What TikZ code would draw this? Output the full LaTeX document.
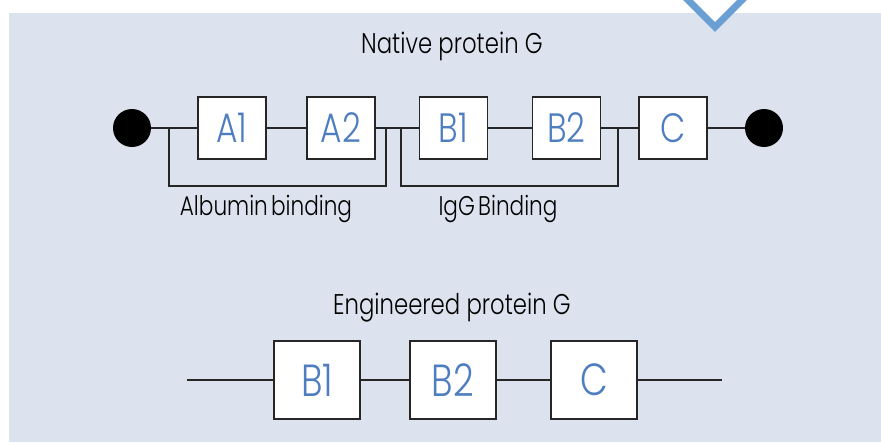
\documentclass[tikz,border=0pt]{standalone}
\usepackage{fontspec}
\setmainfont{Poppins Light}[FakeStretch=0.8]
\usepackage{xcolor}
\definecolor{panel}{HTML}{DCE3EE}
\definecolor{chevron}{HTML}{6A9FD4}
\definecolor{domain}{HTML}{4F7EC0}
\definecolor{wire}{HTML}{262626}

\begin{document}
\begin{tikzpicture}[x=1pt, y=-1pt, line/.style={draw=wire, line width=#1}, line/.default=1.2pt]
    % Define styles for domains, end dots and captions
    \tikzstyle{box} = [draw=wire, fill=white, rectangle, line width=1.2pt, minimum width=68pt, minimum height=62pt, inner sep=0pt, text=domain, font=\fontsize{41}{45}\selectfont]
    \tikzstyle{bigbox} = [box, minimum width=86pt, minimum height=78pt, font=\fontsize{45}{49}\selectfont]
    \tikzstyle{dot} = [circle, fill=black, minimum size=38pt, inner sep=0pt]
    \tikzstyle{title} = [anchor=base, text=black, font=\fontsize{28.5}{32}\selectfont]
    \tikzstyle{caption} = [anchor=base, text=black, font=\fontsize{27}{31}\selectfont]

    % Background panel and marker
    \useasboundingbox (0,0) rectangle (881,442);
    \fill[panel] (9,13) rectangle (881,442);
    \draw[chevron, line width=7pt, fill=white, miter limit=4] (684,-4) -- (715,27) -- (746,-4);

    % Native protein G
    \node [title] (nativetitle) at (452,53) {Native protein G};
    \node [dot] (startdot) at (132,128) {};
    \node [box] (A1) at (232,128) {A1};
    \node [box, right of=A1, node distance=109pt] (A2) {A2};
    \node [box, right of=A2, node distance=112.5pt] (B1) {B1};
    \node [box, right of=B1, node distance=113pt] (B2) {B2};
    \node [box, right of=B2, node distance=106.5pt] (C) {C};
    \node [dot, right of=C, node distance=91pt] (enddot) {};

    \draw[line] (startdot) -- (A1) -- (A2) -- (B1) -- (B2) -- (C) -- (enddot);

    % Binding brackets
    \coordinate (albL) at (169,128);
    \coordinate (albR) at (386,128);
    \coordinate (iggL) at (401,128);
    \coordinate (iggR) at (618,128);
    \draw[line] (albL) -- ++(0,58) -| (albR);
    \draw[line] (iggL) -- ++(0,58) -| (iggR);
    \node [caption] (alblabel) at (266,215) {Albumin\hspace{0.12em}binding};
    \node [caption] (igglabel) at (498,215) {IgG\hspace{0.12em}Binding};

    % Engineered protein G
    \node [title] (engtitle) at (452,314) {Engineered protein G};
    \coordinate (engin) at (187,380);
    \node [bigbox] (eB1) at (317,380) {B1};
    \node [bigbox] (eB2) at (453,380) {\raisebox{-6pt}{B2}};
    \node [bigbox] (eC) at (594,380) {C};
    \coordinate (engout) at (722,380);

    \draw[line] (engin) -- (eB1) -- (eB2) -- (eC) -- (engout);
\end{tikzpicture}
\end{document}
